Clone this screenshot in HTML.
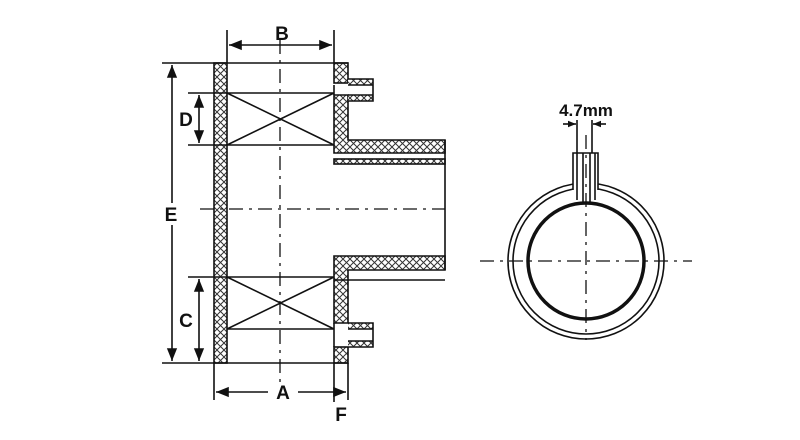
<!DOCTYPE html>
<html><head><style>body{margin:0;background:#fff}svg{display:block}</style></head><body>
<svg width="800" height="440" viewBox="0 0 800 440" xmlns="http://www.w3.org/2000/svg" font-family="Liberation Sans, sans-serif" font-weight="bold">
<defs>
<pattern id="h" width="7" height="7" patternUnits="userSpaceOnUse" x="0" y="0">
<rect width="7" height="7" fill="#fff"/>
<path d="M0 0L7 7M7 0L0 7" stroke="#333" stroke-width="1"/>
</pattern>
<marker id="a" viewBox="0 0 10 10" refX="10" refY="5" markerWidth="8" markerHeight="8" orient="auto-start-reverse"><path d="M0 1L10 5L0 9z" fill="#111"/></marker>
<marker id="s" viewBox="0 0 10 10" refX="10" refY="5" markerWidth="5" markerHeight="5" orient="auto-start-reverse"><path d="M0 1L10 5L0 9z" fill="#111"/></marker>
</defs>
<g stroke="#111" stroke-width="1.6" fill="none">
<rect x="214" y="63" width="13" height="300" fill="url(#h)"/>
<rect x="334" y="63" width="14" height="20" fill="url(#h)"/>
<path d="M334 95H348V140H445V153H334Z" fill="url(#h)"/>
<rect x="334" y="159" width="111" height="5" fill="url(#h)"/>
<path d="M334 256H445V270H348V323H334Z" fill="url(#h)"/>
<rect x="334" y="347" width="14" height="16" fill="url(#h)"/>
<rect x="348" y="79" width="25" height="6" fill="url(#h)" stroke="none"/>
<rect x="348" y="95" width="25" height="6" fill="url(#h)" stroke="none"/>
<path d="M348 79H373V101H348M348 85H373M348 95H373" />
<path d="M334 85V95M334 323V347"/>
<rect x="348" y="323" width="25" height="6" fill="url(#h)" stroke="none"/>
<rect x="348" y="341" width="25" height="6" fill="url(#h)" stroke="none"/>
<path d="M348 323H373V347H348M348 329H373M348 341H373"/>
<path d="M334 280H445M445 140V270"/>
<path d="M162 63H348M162 363H348"/>
<path d="M188 93H334M188 145H334M227 93L334 145M227 145L334 93"/>
<path d="M188 277H334M227 329H334M227 277L334 329M227 329L334 277"/>
<path d="M280 40V405M200 209H445" stroke-dasharray="14,6,3,6" stroke-width="1.3"/>
<path d="M227 30V63M334 30V63"/>
<path d="M229 45H332" marker-start="url(#a)" marker-end="url(#a)"/>
<path d="M172 65V361" marker-start="url(#a)" marker-end="url(#a)"/>
<path d="M199 95V143" marker-start="url(#a)" marker-end="url(#a)"/>
<path d="M199 279V361" marker-start="url(#a)" marker-end="url(#a)"/>
<path d="M214 363V400M348 363V400M334 363V402"/>
<path d="M216 392H346" marker-start="url(#a)" marker-end="url(#a)"/>
<circle cx="586" cy="261" r="78"/>
<circle cx="586" cy="261" r="73"/>
<circle cx="586" cy="261" r="58" stroke-width="3.5"/>
<path d="M573 190V153H598V190M577 153V200M583 153V203M590 153V203M595 153V200" fill="#fff"/>
<path d="M577 120V153M592 120V153"/>
<path d="M563 124H576" marker-end="url(#s)"/>
<path d="M606 124H593" marker-end="url(#s)"/>
<path d="M480 261H692M586 135V340" stroke-dasharray="14,6,3,6" stroke-width="1.3"/>
</g>
<g font-size="19" fill="#111" text-anchor="middle">
<text x="282" y="40">B</text>
<rect x="162" y="203" width="18" height="22" fill="#fff"/>
<text x="171" y="221">E</text>
<text x="186" y="126">D</text>
<text x="186" y="327">C</text>
<rect x="268" y="382" width="30" height="20" fill="#fff"/>
<text x="283" y="399">A</text>
<text x="341" y="421">F</text>
<text x="586" y="116" font-size="17">4.7mm</text>
</g>
</svg>
</body></html>
